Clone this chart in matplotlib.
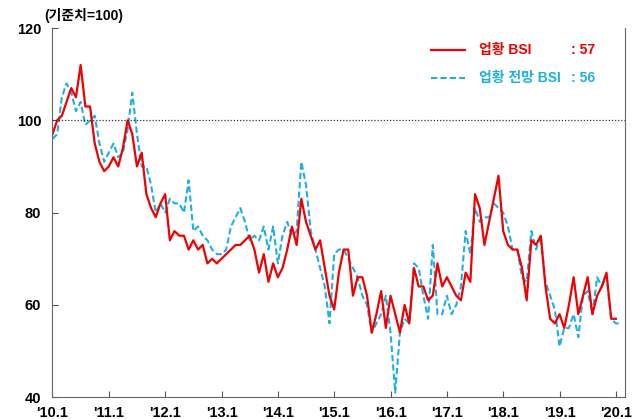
import numpy as np
import matplotlib.pyplot as plt

plt.rcParams['font.family'] = ['Liberation Sans', 'Noto Sans CJK KR']

bsi = [97, 100, 101, 104, 107, 105, 112, 103, 103, 95, 91, 89,
       90, 92, 90, 94, 100, 97, 90, 93, 84, 81, 79, 82,
       84, 74, 76, 75, 75, 72, 74, 72, 73, 69, 70, 69,
       70, 71, 72, 73, 73, 74, 75, 72, 67, 71, 65, 69,
       66, 68, 72, 77, 73, 83, 78, 75, 72, 74, 68, 62,
       59, 67, 72, 72, 62, 66, 66, 62, 54, 58, 63, 55,
       62, 58, 54, 60, 56, 68, 64, 64, 61, 62, 69, 64,
       66, 64, 62, 61, 67, 65, 84, 81, 73, 78, 83, 88,
       76, 73, 72, 72, 68, 61, 74, 73, 75, 64, 57, 56,
       58, 55, 60, 66, 58, 62, 66, 58, 62, 64, 67, 57,
       57]
outlook = [96, 97, 105, 108, 106, 102, 104, 99, 100, 101, 95, 91,
           93, 95, 92, 93, 98, 106, 97, 90, 90, 86, 80, 82,
           80, 83, 82, 82, 80, 87, 76, 77, 75, 74, 72, 71,
           71, 72, 77, 79, 81, 78, 74, 75, 74, 77, 72, 77,
           69, 75, 78, 75, 76, 91, 86, 76, 72, 68, 64, 56,
           71, 72, 72, 70, 68, 66, 62, 60, 54, 56, 58, 62,
           54, 41, 54, 57, 56, 69, 68, 62, 57, 73, 58, 58,
           62, 58, 60, 64, 76, 71, 81, 78, 79, 79, 82, 81,
           80, 77, 72, 72, 66, 65, 76, 72, 75, 65, 62, 59,
           51, 55, 55, 58, 53, 62, 63, 58, 66, 64, 66, 57,
           56, 56]
tick_labels = ["'10.1", "'11.1", "'12.1", "'13.1", "'14.1", "'15.1",
               "'16.1", "'17.1", "'18.1", "'19.1", "'20.1"]

fig, ax = plt.subplots(figsize=(6.4, 4.19), dpi=100)
fig.subplots_adjust(left=0.082, right=0.977, top=0.933, bottom=0.052)

ax.plot(np.arange(len(outlook)), outlook, color='#1EAEE6', lw=1.5, ls=(0, (3, 1.5)))
ax.plot(np.arange(len(bsi)), bsi, color='#F00000', lw=1.6)
ax.axhline(100, color='#333333', lw=0.9, ls=(0, (1, 1.5)))

ax.set_xlim(0, 122)
ax.set_ylim(40, 120)
ax.set_yticks([40, 60, 80, 100, 120])
ax.set_xticks(np.arange(0, 121, 12))
ax.set_xticklabels(tick_labels)
ax.tick_params(direction='in', labelsize=10.5, length=4, color='#555555')
ax.tick_params(axis='x', pad=6)
ax.tick_params(axis='y', pad=8)
for lab in ax.get_xticklabels() + ax.get_yticklabels():
    lab.set_fontweight('bold')
ax.spines['top'].set_visible(False)
for s in ['left', 'right', 'bottom']:
    ax.spines[s].set_color('#666666')

ax.text(-0.015, 1.015, '(기준치=100)', transform=ax.transAxes, fontsize=10,
        fontweight='bold', ha='left', va='bottom')

# legend
ax.plot([0.66, 0.72], [0.94, 0.94], transform=ax.transAxes, color='#F00000', lw=1.6)
ax.plot([0.66, 0.72], [0.865, 0.865], transform=ax.transAxes, color='#1EAEE6', lw=1.5,
        ls=(0, (3, 1.5)))
ax.text(0.745, 0.94, '업황 BSI', transform=ax.transAxes, color='#F00000',
        fontsize=10, fontweight='bold', va='center')
ax.text(0.745, 0.865, '업황 전망 BSI', transform=ax.transAxes, color='#1EAEE6',
        fontsize=10, fontweight='bold', va='center')
ax.text(0.905, 0.94, ': 57', transform=ax.transAxes, color='#F00000',
        fontsize=10, fontweight='bold', va='center')
ax.text(0.905, 0.865, ': 56', transform=ax.transAxes, color='#1EAEE6',
        fontsize=10, fontweight='bold', va='center')

fig.savefig('out.png')
